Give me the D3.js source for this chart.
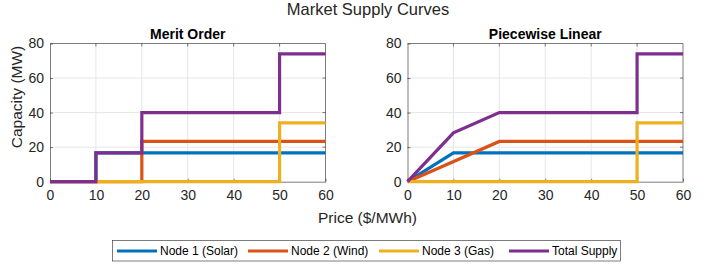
<!DOCTYPE html>
<html>
<head>
<meta charset="utf-8">
<script src="https://cdn.jsdelivr.net/npm/d3@7"></script>
<style>
  body { margin: 0; background: #fff; }
  svg { font-family: "Liberation Sans", Arial, Helvetica, sans-serif; }
</style>
</head>
<body>
<div id="chart"></div>
<script>
// Series data: [price, capacity] breakpoints
const seriesNames = ["Node 1 (Solar)", "Node 2 (Wind)", "Node 3 (Gas)", "Total Supply"];
const seriesColors = ["#0072BD", "#D95319", "#EDB120", "#7E2F8E"];

const meritSolar = [[0, 0], [10, 0], [10, 16.7], [60, 16.7]];
const meritWind = [[0, 0], [20, 0], [20, 23.3], [60, 23.3]];
const meritGas = [[0, 0], [50, 0], [50, 34], [60, 34]];
const meritTotal = [[0, 0], [10, 0], [10, 16.7], [20, 16.7], [20, 40], [50, 40], [50, 74], [60, 74]];

const pwlSolar = [[0, 0], [10, 16.7], [60, 16.7]];
const pwlWind = [[0, 0], [20, 23.3], [60, 23.3]];
const pwlGas = [[0, 0], [50, 0], [50, 34], [60, 34]];
const pwlTotal = [[0, 0], [10, 28.3], [20, 40], [50, 40], [50, 74], [60, 74]];

const xTicks = [0, 10, 20, 30, 40, 50, 60];
const yTicks = [0, 20, 40, 60, 80];

const panels = [
    { title: "Merit Order", left: 50, series: [meritSolar, meritWind, meritGas, meritTotal] },
    { title: "Piecewise Linear", left: 407.5, series: [pwlSolar, pwlWind, pwlGas, pwlTotal] }
];

const W = 715, H = 264;
const plotW = 275.5, plotTop = 43.5, plotBottom = 181.7;

const svg = d3.select("#chart").append("svg")
    .attr("width", W)
    .attr("height", H);

// Overall title
svg.append("text")
    .attr("x", 368)
    .attr("y", 15)
    .attr("text-anchor", "middle")
    .style("font-size", "16.5px")
    .style("fill", "#262626")
    .text("Market Supply Curves");

panels.forEach(p => {
    const x = d3.scaleLinear().domain([0, 60]).range([p.left, p.left + plotW]);
    const y = d3.scaleLinear().domain([0, 80]).range([plotBottom, plotTop]);

    const g = svg.append("g");

    // grid lines
    g.append("g").selectAll("line")
        .data(xTicks.slice(1, -1))
        .enter().append("line")
        .attr("x1", d => x(d)).attr("x2", d => x(d))
        .attr("y1", plotTop).attr("y2", plotBottom)
        .attr("stroke", "#e6e6e6").attr("stroke-width", 1);
    g.append("g").selectAll("line")
        .data(yTicks.slice(1, -1))
        .enter().append("line")
        .attr("x1", p.left).attr("x2", p.left + plotW)
        .attr("y1", d => y(d)).attr("y2", d => y(d))
        .attr("stroke", "#e6e6e6").attr("stroke-width", 1);

    // axes (ticks inward, MATLAB-like)
    const xAxis = g.append("g")
        .attr("transform", `translate(0,${plotBottom})`)
        .call(d3.axisBottom(x).tickValues(xTicks).tickSizeInner(-3).tickSizeOuter(0).tickPadding(8));
    const yAxis = g.append("g")
        .attr("transform", `translate(${p.left},0)`)
        .call(d3.axisLeft(y).tickValues(yTicks).tickSizeInner(-3).tickSizeOuter(0).tickPadding(6));
    [xAxis, yAxis].forEach(a => {
        a.select(".domain").attr("stroke", "#262626").attr("stroke-width", 0.6);
        a.selectAll(".tick line").attr("stroke", "#262626").attr("stroke-width", 0.6);
        a.selectAll(".tick text").style("font-size", "14px").style("fill", "#262626");
    });
    xAxis.selectAll(".tick text").attr("dy", "0.75em");

    // top and right box edges
    const box = g.append("g");
    box.append("line")
        .attr("x1", p.left).attr("x2", p.left + plotW)
        .attr("y1", plotTop).attr("y2", plotTop);
    box.append("line")
        .attr("x1", p.left + plotW).attr("x2", p.left + plotW)
        .attr("y1", plotTop).attr("y2", plotBottom);
    box.selectAll("line.tt")
        .data(xTicks.slice(1, -1))
        .enter().append("line")
        .attr("x1", d => x(d)).attr("x2", d => x(d))
        .attr("y1", plotTop).attr("y2", plotTop + 3);
    box.selectAll("line.tr")
        .data(yTicks.slice(1, -1))
        .enter().append("line")
        .attr("x1", p.left + plotW).attr("x2", p.left + plotW - 3)
        .attr("y1", d => y(d)).attr("y2", d => y(d));
    box.selectAll("line").attr("stroke", "#262626").attr("stroke-width", 0.6);

    // series lines
    const line = d3.line().x(d => x(d[0])).y(d => y(d[1]));
    p.series.forEach((s, i) => {
        g.append("path")
            .datum(s)
            .attr("d", line)
            .attr("fill", "none")
            .attr("stroke", seriesColors[i])
            .attr("stroke-width", 3.2)
            .attr("stroke-linejoin", "miter");
    });

    // subplot title
    g.append("text")
        .attr("x", p.left + plotW / 2)
        .attr("y", 39)
        .attr("text-anchor", "middle")
        .style("font-size", "14px")
        .style("font-weight", "bold")
        .style("fill", "#000")
        .text(p.title);
});

// Axis labels
svg.append("text")
    .attr("transform", "translate(22,97) rotate(-90)")
    .attr("text-anchor", "middle")
    .style("font-size", "15.5px")
    .style("fill", "#262626")
    .text("Capacity (MW)");

svg.append("text")
    .attr("x", 367.5)
    .attr("y", 223)
    .attr("text-anchor", "middle")
    .style("font-size", "15.5px")
    .style("fill", "#262626")
    .text("Price ($/MWh)");

// Legend
const legend = svg.append("g");
legend.append("rect")
    .attr("x", 112.5).attr("y", 240.5)
    .attr("width", 508).attr("height", 20.5)
    .attr("fill", "#fff")
    .attr("stroke", "#262626").attr("stroke-width", 0.6);

const legendX = [117, 248, 379, 509];
seriesNames.forEach((name, i) => {
    const lx = legendX[i];
    legend.append("line")
        .attr("x1", lx).attr("x2", lx + 40)
        .attr("y1", 251).attr("y2", 251)
        .attr("stroke", seriesColors[i]).attr("stroke-width", 3.2);
    legend.append("text")
        .attr("x", lx + 43)
        .attr("y", 255)
        .style("font-size", "12px")
        .style("fill", "#000")
        .text(name);
});
</script>
</body>
</html>
